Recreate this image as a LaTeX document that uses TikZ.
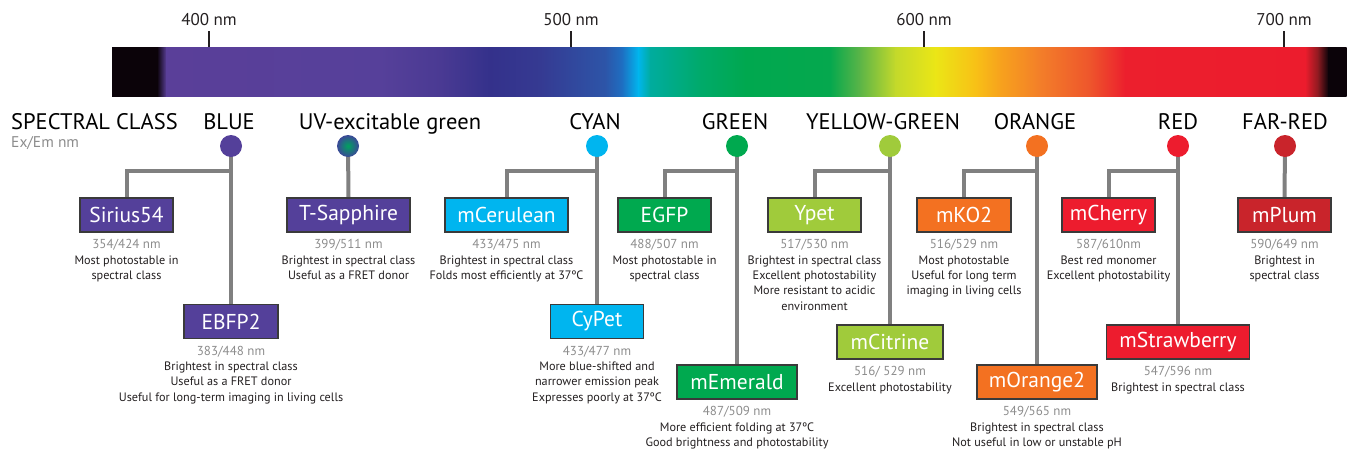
\documentclass[tikz,border=0pt]{standalone}
\usepackage{fontspec}
\setmainfont{PT Sans}
\usetikzlibrary{backgrounds}
\definecolor{cblue}{HTML}{54409A}
\definecolor{ccyan}{HTML}{00B5EF}
\definecolor{cgreen}{HTML}{00A94F}
\definecolor{cyg}{HTML}{A0CB3B}
\definecolor{corange}{HTML}{F37121}
\definecolor{cred}{HTML}{ED1C2E}
\definecolor{cfarred}{HTML}{C9242B}
\definecolor{conn}{HTML}{808080}
\definecolor{numgray}{HTML}{8C8C8C}
\definecolor{txt}{HTML}{231F20}
\definecolor{boxline}{HTML}{3A3A3A}
\definecolor{tsin}{HTML}{00A25E}
\definecolor{tsout}{HTML}{3B4898}
% spectrum stops
\definecolor{s00}{HTML}{0B0309}
\definecolor{s01}{HTML}{5A3F99}
\definecolor{s02}{HTML}{56409A}
\definecolor{s03}{HTML}{4A3A93}
\definecolor{s04}{HTML}{34318B}
\definecolor{s05}{HTML}{353A92}
\definecolor{s06}{HTML}{2D55A8}
\definecolor{s07}{HTML}{1E6FC2}
\definecolor{s08}{HTML}{00B6EE}
\definecolor{s09}{HTML}{00AC9E}
\definecolor{s10}{HTML}{00AA6A}
\definecolor{s11}{HTML}{00A84F}
\definecolor{s12}{HTML}{05A84E}
\definecolor{s13}{HTML}{5CB547}
\definecolor{s14}{HTML}{C3D92B}
\definecolor{s15}{HTML}{EBE616}
\definecolor{s16}{HTML}{F8C116}
\definecolor{s17}{HTML}{F7A21D}
\definecolor{s18}{HTML}{F37E29}
\definecolor{s19}{HTML}{EE552C}
\definecolor{s20}{HTML}{EC1F2D}
\definecolor{s21}{HTML}{EC1C2D}
\definecolor{s22}{HTML}{8A1A20}
\begin{document}
\begin{tikzpicture}[x=1pt,y=-1pt,
  fpbox/.style={draw=boxline, line width=1.3pt, text=white, font=\fontsize{21.5}{24}\selectfont, minimum height=34, inner sep=0},
  dot/.style={circle, minimum size=22, inner sep=0},
  link/.style={draw=conn, line width=4},
  desc/.style={align=center, text=txt, font=\fontsize{12.2}{15.4}\selectfont, inner sep=0, anchor=north},
  cls/.style={font=\fontsize{22.5}{25}\selectfont, anchor=base, text=black, inner sep=0},
  ticklbl/.style={font=\fontsize{17}{20}\selectfont, anchor=base, text=txt, inner sep=0},
  tickmark/.style={draw=txt, line width=1.2}]
\useasboundingbox (0,0) rectangle (1349,453);
% spectrum bar
\foreach \xa/\ca/\xb/\cb in {112/s00/157/s00,157/s00/166/s01,166/s01/380/s02,380/s02/440/s03,440/s03/490/s04,490/s04/540/s05,540/s05/605/s06,605/s06/622/s07,622/s07/638/s08,638/s08/650/s09,650/s09/700/s10,700/s10/745/s11,745/s11/830/s12,830/s12/860/s13,860/s13/895/s14,895/s14/935/s15,935/s15/975/s16,975/s16/1000/s17,1000/s17/1040/s18,1040/s18/1090/s19,1090/s19/1125/s20,1125/s20/1305/s21,1305/s21/1318/s22,1318/s22/1328/s00,1328/s00/1346/s00}
  {\shade[left color=\ca, right color=\cb] (\xa,47) rectangle (\xb+0.6,96);}
% ticks
\foreach \x/\t in {209/400,571/500,924/600,1284/700}{
  \node[ticklbl] (tick\t) at (\x,25) {\t\ nm};
  \draw[tickmark] (\x,31) -- (\x,47);
}
% headings
\node[cls, anchor=base west] (spec) at (11,129.5) {SPECTRAL CLASS};
\node[anchor=base west, inner sep=0, font=\fontsize{15.5}{17}\selectfont, text=numgray] (exem) at (11,147.5) {Ex/Em nm};
\node[cls] (lblue) at (229,129.5) {BLUE};
\node[cls] (luv) at (390,129.5) {UV-excitable green};
\node[cls] (lcyan) at (595,129.5) {CYAN};
\node[cls] (lgreen) at (735,129.5) {GREEN};
\node[cls] (lyg) at (883,129.5) {YELLOW-GREEN};
\node[cls] (lorange) at (1035,129.5) {ORANGE};
\node[cls] (lred) at (1178,129.5) {RED};
\node[cls] (lfar) at (1285,129.5) {FAR-RED};
% circles
\node[dot, fill=cblue] (dblue) at (231,146) {};
\node[dot, inner color=tsin, outer color=tsout] (duv) at (348,146) {};
\node[dot, fill=ccyan] (dcyan) at (597,146) {};
\node[dot, fill=cgreen] (dgreen) at (737,146) {};
\node[dot, fill=cyg] (dyg) at (890,146) {};
\node[dot, fill=corange] (dorange) at (1037,146) {};
\node[dot, fill=cred] (dred) at (1178,146) {};
\node[dot, fill=cfarred] (dfar) at (1285,146) {};
% junctions
\coordinate (jblue) at (231,171);
\coordinate (jcyan) at (597,171);
\coordinate (jgreen) at (737,171);
\coordinate (jyg) at (890,171);
\coordinate (jorange) at (1037,171);
\coordinate (jred) at (1178,171);
% boxes
\node[fpbox, fill=cblue, minimum width=93] (sirius) at (126.5,215) {Sirius54};
\node[fpbox, fill=cblue, minimum width=94] (ebfp) at (231,321.5) {EBFP2};
\node[fpbox, fill=cblue, minimum width=123] (tsap) at (348.5,215) {T-Sapphire};
\node[fpbox, fill=ccyan, minimum width=123] (mcer) at (506.5,215) {mCerulean};
\node[fpbox, fill=ccyan, minimum width=93] (cypet) at (597,321.5) {CyPet};
\node[fpbox, fill=cgreen, minimum width=93] (egfp) at (664.5,215) {EGFP};
\node[fpbox, fill=cgreen, minimum width=120] (memer) at (737,382) {mEmerald};
\node[fpbox, fill=cyg, minimum width=93] (ypet) at (814.5,215) {Ypet};
\node[fpbox, fill=cyg, minimum width=106] (mcit) at (890,342) {mCitrine};
\node[fpbox, fill=corange, minimum width=94] (mko) at (964,215) {mKO2};
\node[fpbox, fill=corange, minimum width=120] (mora) at (1037,382) {mOrange2};
\node[fpbox, fill=cred, minimum width=93] (mcher) at (1108.5,215) {mCherry};
\node[fpbox, fill=cred, minimum width=143] (mstraw) at (1178,342) {mStrawberry};
\node[fpbox, fill=cfarred, minimum width=93] (mplum) at (1284.5,215) {mPlum};
% connectors
\begin{scope}[on background layer]
\draw[link] (dblue.center) -- (ebfp.north);
\draw[link] (sirius.north) |- (jblue);
\draw[link] (duv.center) -- (tsap.north);
\draw[link] (dcyan.center) -- (cypet.north);
\draw[link] (mcer.north) |- (jcyan);
\draw[link] (dgreen.center) -- (memer.north);
\draw[link] (egfp.north) |- (jgreen);
\draw[link] (dyg.center) -- (mcit.north);
\draw[link] (ypet.north) |- (jyg);
\draw[link] (dorange.center) -- (mora.north);
\draw[link] (mko.north) |- (jorange);
\draw[link] (dred.center) -- (mstraw.north);
\draw[link] (mcher.north) |- (jred);
\draw[link] (dfar.center) -- (mplum.north);
\end{scope}
% descriptions
\newcommand{\nm}[1]{{\fontsize{13}{15.4}\selectfont\color{numgray}#1}}
\node[desc] (dsirius) at ([yshift=-6.5pt]sirius.south) {\nm{354/424 nm}\\Most photostable in\\spectral class};
\node[desc] (debfp) at ([yshift=-6.5pt]ebfp.south) {\nm{383/448 nm}\\Brightest in spectral class\\Useful as a FRET donor\\Useful for long-term imaging in living cells};
\node[desc] (dtsap) at ([yshift=-6.5pt]tsap.south) {\nm{399/511 nm}\\Brightest in spectral class\\Useful as a FRET donor};
\node[desc] (dmcer) at ([yshift=-6.5pt]mcer.south) {\nm{433/475 nm}\\Brightest in spectral class\\Folds most efficiently at 37ºC};
\node[desc] (dcypet) at ([yshift=-6.5pt]cypet.south) {\nm{433/477 nm}\\More blue-shifted and\\narrower emission peak\\Expresses poorly at 37ºC};
\node[desc] (degfp) at ([yshift=-6.5pt]egfp.south) {\nm{488/507 nm}\\Most photostable in\\spectral class};
\node[desc] (dmemer) at ([yshift=-6.5pt]memer.south) {\nm{487/509 nm}\\More efficient folding at 37ºC\\Good brightness and photostability};
\node[desc] (dypet) at ([yshift=-6.5pt]ypet.south) {\nm{517/530 nm}\\Brightest in spectral class\\Excellent photostability\\More resistant to acidic\\environment};
\node[desc] (dmcit) at ([yshift=-6.5pt]mcit.south) {\nm{516/ 529 nm}\\Excellent photostability};
\node[desc] (dmko) at ([yshift=-6.5pt]mko.south) {\nm{516/529 nm}\\Most photostable\\Useful for long term\\imaging in living cells};
\node[desc] (dmora) at ([yshift=-6.5pt]mora.south) {\nm{549/565 nm}\\Brightest in spectral class\\Not useful in low or unstable pH};
\node[desc] (dmcher) at ([yshift=-6.5pt]mcher.south) {\nm{587/610nm}\\Best red monomer\\Excellent photostability};
\node[desc] (dmstraw) at ([yshift=-6.5pt]mstraw.south) {\nm{547/596 nm}\\Brightest in spectral class};
\node[desc] (dmplum) at ([yshift=-6.5pt]mplum.south) {\nm{590/649 nm}\\Brightest in\\spectral class};
\end{tikzpicture}
\end{document}
